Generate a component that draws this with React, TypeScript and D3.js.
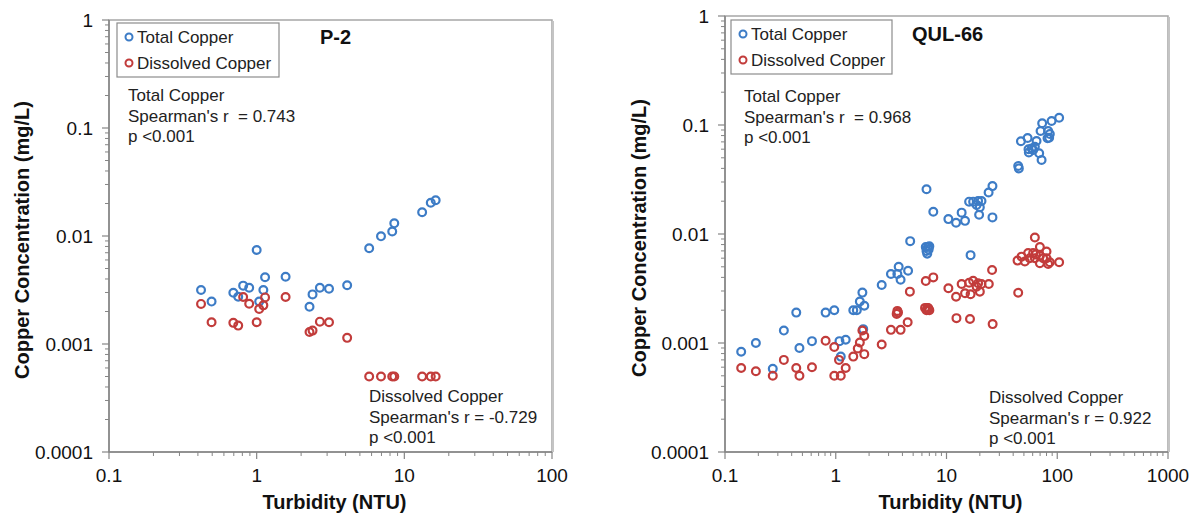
import React from "react";
import * as d3 from "d3";

const xTickLabelsP2 = ["0.1", "1", "10", "100"];
const xTickLabelsQUL = ["0.1", "1", "10", "100", "1000"];
const yTickLabels = ["0.0001", "0.001", "0.01", "0.1", "1"];

const p2Turbidity = [0.42, 0.495, 0.695, 0.75, 0.81, 0.89, 1.0, 1.04, 1.11, 1.14, 1.57, 2.28, 2.39, 2.68, 3.09, 4.1, 5.78, 6.95, 8.28, 8.55, 13.2, 15.1, 16.3];
const p2Total = [0.00316, 0.00247, 0.00298, 0.00274, 0.00347, 0.00332, 0.00742, 0.00247, 0.00316, 0.00415, 0.0042, 0.00221, 0.00288, 0.00332, 0.00325, 0.0035, 0.00769, 0.00993, 0.011, 0.0131, 0.0166, 0.0203, 0.0214];
const p2Dissolved = [0.00235, 0.00159, 0.00157, 0.00148, 0.00272, 0.00236, 0.00159, 0.00211, 0.00228, 0.0027, 0.00272, 0.00129, 0.00133, 0.00161, 0.00159, 0.00114, 0.0005, 0.0005, 0.0005, 0.0005, 0.0005, 0.0005, 0.0005];

const qulTotal: [number, number][] = [
  [0.14, 0.00083], [0.19, 0.001], [0.27, 0.00058], [0.34, 0.0013], [0.44, 0.0019], [0.47, 0.0009], [0.61, 0.00104], [0.81, 0.0019], [0.97, 0.002], [1.08, 0.00104], [1.23, 0.00107], [1.11, 0.00075], [1.44, 0.002], [1.55, 0.002], [1.65, 0.0024], [1.74, 0.0029], [1.81, 0.0022], [1.77, 0.00134], [2.6, 0.0034], [3.15, 0.0043], [3.7, 0.005], [3.6, 0.0043], [3.85, 0.0038], [4.5, 0.0046], [4.7, 0.0086], [6.5, 0.0076], [6.8, 0.0076], [6.6, 0.007], [6.7, 0.0066], [6.9, 0.0072], [7.0, 0.0077], [6.6, 0.0257], [7.6, 0.016], [10.4, 0.0137], [12.2, 0.0127], [13.7, 0.0157], [14.7, 0.0132], [16.5, 0.0064], [16.0, 0.0198], [17.4, 0.0198], [19.3, 0.0201], [20.7, 0.0201], [18.7, 0.0185], [20.0, 0.0176], [19.7, 0.015], [26, 0.0142], [24, 0.024], [26, 0.0275], [44.4, 0.042], [45, 0.04], [47, 0.071], [54, 0.076], [55, 0.06], [55.4, 0.056], [58.8, 0.061], [60.6, 0.059], [62.8, 0.0632], [65, 0.0713], [68.7, 0.055], [72.2, 0.0477], [70.7, 0.0881], [73.1, 0.1037], [82.8, 0.088], [85.7, 0.0827], [81.7, 0.0755], [84.5, 0.0765], [88.9, 0.1088], [104, 0.1167],
];

const qulDissolved: [number, number][] = [
  [0.14, 0.00059], [0.19, 0.00055], [0.27, 0.0005], [0.34, 0.0007], [0.44, 0.00059], [0.47, 0.0005], [0.61, 0.0006], [0.81, 0.00105], [0.97, 0.00092], [0.97, 0.0005], [1.11, 0.0005], [1.23, 0.00059], [1.07, 0.0007], [1.44, 0.00075], [1.58, 0.00089], [1.65, 0.00101], [1.74, 0.0013], [1.81, 0.00116], [1.81, 0.00079], [2.6, 0.00097], [3.15, 0.00132], [3.85, 0.00132], [4.46, 0.00155], [3.6, 0.00197], [3.65, 0.0019], [3.55, 0.00185], [4.67, 0.00296], [6.4, 0.0021], [6.6, 0.002], [6.8, 0.0021], [7.0, 0.002], [6.9, 0.00205], [6.7, 0.0021], [6.5, 0.0037], [7.6, 0.004], [10.4, 0.00318], [12.2, 0.00266], [12.3, 0.00169], [13.7, 0.00348], [14.7, 0.00286], [16.3, 0.00166], [16.5, 0.0028], [16.0, 0.00357], [17.4, 0.00373], [19.3, 0.00353], [20.7, 0.00348], [18.7, 0.00329], [20.0, 0.00296], [24.1, 0.00348], [25.8, 0.00468], [26.1, 0.00149], [44.4, 0.00289], [43.8, 0.0057], [47.6, 0.0062], [54.6, 0.0067], [60.6, 0.0067], [62.8, 0.0093], [69.7, 0.0076], [80, 0.0069], [104, 0.0055], [51, 0.0056], [64.1, 0.0065], [69.7, 0.0063], [74.6, 0.006], [80, 0.006], [85.7, 0.0055], [69.7, 0.0054], [82.8, 0.0053], [62.8, 0.006], [56.5, 0.006],
];

const BLUE = "#3d7cc6";
const RED = "#c23c3b";
const FONT = "'Liberation Sans', Arial, sans-serif";

type PanelProps = {
  left: number; right: number; top: number; bottom: number;
  xLabels: string[];
  total: [number, number][];
  dissolved: [number, number][];
  title: string; titleX: number; titleY: number;
  legend: { x: number; y: number; w: number; h: number };
  totalNote: { x: number; y: number; lines: string[] };
  dissNote: { x: number; y: number; lines: string[] };
  yTitleX: number;
};

function Panel(p: PanelProps) {
  const xMin = +p.xLabels[0];
  const xMax = +p.xLabels[p.xLabels.length - 1];
  const x = d3.scaleLog().domain([xMin, xMax]).range([p.left, p.right]);
  const y = d3.scaleLog().domain([0.0001, 1]).range([p.bottom, p.top]);
  const xMinor: number[] = [];
  for (let e = Math.log10(xMin); e < Math.log10(xMax); e++) for (let k = 2; k <= 9; k++) xMinor.push(k * Math.pow(10, e));
  const yMinor: number[] = [];
  for (let e = -4; e < 0; e++) for (let k = 2; k <= 9; k++) yMinor.push(k * Math.pow(10, e));
  const axisCol = "#858585";
  const cx = (p.left + p.right) / 2;
  const cy = (p.top + p.bottom) / 2 + 4;
  const noteSize = 17;
  return (
    <g fontFamily={FONT}>
      <rect x={p.left} y={p.top} width={p.right - p.left} height={p.bottom - p.top} fill="white" stroke="#a6a6a6" strokeWidth={1.5} />
      <line x1={p.right + 1} x2={p.right + 1} y1={p.top + 1} y2={p.bottom} stroke="#c4c4c4" strokeWidth={2} />
      <line x1={p.left} x2={p.left} y1={p.top} y2={p.bottom} stroke={axisCol} strokeWidth={1.5} />
      <line x1={p.left} x2={p.right} y1={p.bottom} y2={p.bottom} stroke={axisCol} strokeWidth={1.5} />
      {yMinor.map((v, i) => (
        <line key={"ym" + i} x1={p.left - 4} x2={p.left} y1={y(v)} y2={y(v)} stroke={axisCol} strokeWidth={1} />
      ))}
      {yTickLabels.map((t) => (
        <g key={"y" + t}>
          <line x1={p.left - 7} x2={p.left} y1={y(+t)} y2={y(+t)} stroke={axisCol} strokeWidth={1.2} />
          <text x={p.left - 16} y={y(+t) + 7} textAnchor="end" fontSize={19} fill="#111">{t}</text>
        </g>
      ))}
      {xMinor.map((v, i) => (
        <line key={"xm" + i} x1={x(v)} x2={x(v)} y1={p.bottom} y2={p.bottom + 4} stroke={axisCol} strokeWidth={1} />
      ))}
      {p.xLabels.map((t) => (
        <g key={"x" + t}>
          <line x1={x(+t)} x2={x(+t)} y1={p.bottom} y2={p.bottom + 7} stroke={axisCol} strokeWidth={1.2} />
          <text x={x(+t)} y={482} textAnchor="middle" fontSize={19} fill="#111">{t}</text>
        </g>
      ))}
      <text x={cx + 4} y={509} textAnchor="middle" fontSize={20} fontWeight="bold" fill="#111">Turbidity (NTU)</text>
      <text transform={`translate(${p.yTitleX},${cy}) rotate(-90)`} textAnchor="middle" fontSize={20} fontWeight="bold" fill="#111">Copper Concentration (mg/L)</text>
      {p.total.map((d, i) => (
        <circle key={"t" + i} cx={x(d[0])} cy={y(d[1])} r={3.9} fill="none" stroke={BLUE} strokeWidth={2.2} />
      ))}
      {p.dissolved.map((d, i) => (
        <circle key={"d" + i} cx={x(d[0])} cy={y(d[1])} r={3.9} fill="none" stroke={RED} strokeWidth={2.2} />
      ))}
      <rect x={p.legend.x} y={p.legend.y} width={p.legend.w} height={p.legend.h} fill="white" stroke="#8c8c8c" strokeWidth={1.2} />
      <circle cx={p.legend.x + 12} cy={p.legend.y + 14} r={3.5} fill="none" stroke={BLUE} strokeWidth={2} />
      <text x={p.legend.x + 20} y={p.legend.y + 20} fontSize={noteSize} fill="#222">Total Copper</text>
      <circle cx={p.legend.x + 12} cy={p.legend.y + 40} r={3.5} fill="none" stroke={RED} strokeWidth={2} />
      <text x={p.legend.x + 20} y={p.legend.y + 46} fontSize={noteSize} fill="#222">Dissolved Copper</text>
      <text x={p.titleX} y={p.titleY} fontSize={20} fontWeight="bold" fill="#111">{p.title}</text>
      {p.totalNote.lines.map((l, i) => (
        <text key={"tn" + i} x={p.totalNote.x} y={p.totalNote.y + i * 20.5} fontSize={noteSize} fill="#222" style={{ whiteSpace: "pre" }}>{l}</text>
      ))}
      {p.dissNote.lines.map((l, i) => (
        <text key={"dn" + i} x={p.dissNote.x} y={p.dissNote.y + i * 20.5} fontSize={noteSize} fill="#222" style={{ whiteSpace: "pre" }}>{l}</text>
      ))}
    </g>
  );
}

export default function App() {
  const p2TotalPts: [number, number][] = p2Turbidity.map((t, i) => [t, p2Total[i]]);
  const p2DissPts: [number, number][] = p2Turbidity.map((t, i) => [t, p2Dissolved[i]]);
  return (
    <svg width={1193} height={517} style={{ position: "absolute", left: 0, top: 0, background: "white" }}>
      <rect width={1193} height={517} fill="white" />
      <Panel
        left={109} right={552} top={20} bottom={452}
        xLabels={xTickLabelsP2}
        total={p2TotalPts} dissolved={p2DissPts}
        title="P-2" titleX={320} titleY={44}
        legend={{ x: 117, y: 23, w: 162, h: 54 }}
        totalNote={{ x: 128, y: 101, lines: ["Total Copper", "Spearman's r  = 0.743", "p <0.001"] }}
        dissNote={{ x: 369, y: 402, lines: ["Dissolved Copper", "Spearman's r = -0.729", "p <0.001"] }}
        yTitleX={29}
      />
      <Panel
        left={725} right={1168} top={16} bottom={452}
        xLabels={xTickLabelsQUL}
        total={qulTotal} dissolved={qulDissolved}
        title="QUL-66" titleX={912} titleY={41}
        legend={{ x: 731, y: 20, w: 161, h: 54 }}
        totalNote={{ x: 744, y: 102, lines: ["Total Copper", "Spearman's r  = 0.968", "p <0.001"] }}
        dissNote={{ x: 989, y: 403, lines: ["Dissolved Copper", "Spearman's r = 0.922", "p <0.001"] }}
        yTitleX={646}
      />
    </svg>
  );
}
